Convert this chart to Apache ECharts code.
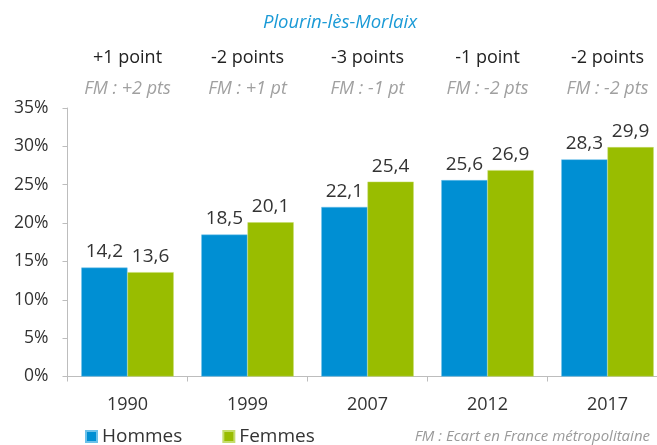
<!DOCTYPE html>
<html>
<head>
<meta charset="utf-8">
<script src="https://cdn.jsdelivr.net/npm/echarts@6/dist/echarts.min.js"></script>
<style>
  html, body { margin: 0; padding: 0; background: #fff; overflow: hidden; }
  #chart { width: 680px; height: 445px; }
</style>
</head>
<body>
<div id="chart"></div>
<script>
// Census years
const years = ['1990', '1999', '2007', '2012', '2017'];
// Share (%) for men and women
const hommes = [14.2, 18.5, 22.1, 25.6, 28.3];
const femmes = [13.6, 20.1, 25.4, 26.9, 29.9];
// Gap between women and men, and the same gap for metropolitan France
const ecarts = ['+1 point', '-2 points', '-3 points', '-1 point', '-2 points'];
const ecartsFM = ['FM : +2 pts', 'FM : +1 pt', 'FM : -1 pt', 'FM : -2 pts', 'FM : -2 pts'];
const yTicks = [0, 5, 10, 15, 20, 25, 30, 35];

const FONT = '"Open Sans", "Noto Sans", sans-serif';
const fmt = v => v.toFixed(1).replace('.', ',');

const chart = echarts.init(document.getElementById('chart'), null, { renderer: 'canvas' });

chart.setOption({
  animation: false,
  textStyle: { fontFamily: FONT },
  title: [
    {
      text: 'Plourin-lès-Morlaix',
      left: 'center',
      top: 8,
      textStyle: { fontFamily: FONT, fontSize: 18.5, fontStyle: 'italic', fontWeight: 'normal', color: '#1a9ad6' }
    },
    {
      text: 'FM : Ecart en France métropolitaine',
      right: 25,
      bottom: -4,
      textStyle: { fontFamily: FONT, fontSize: 15, fontStyle: 'italic', fontWeight: 'normal', color: '#9a9a9a' }
    }
  ],
  legend: {
    left: 80,
    top: 422,
    itemWidth: 11,
    itemHeight: 11,
    itemGap: 40,
    icon: 'rect',
    textStyle: { fontFamily: FONT, fontSize: 19, color: '#333' },
    data: ['Hommes', 'Femmes']
  },
  grid: { left: 67.5, top: 108, right: 12.5, bottom: 68.5 },
  xAxis: [
    {
      type: 'category',
      data: years,
      position: 'bottom',
      axisLine: { lineStyle: { color: '#bdbdbd' } },
      axisTick: { show: true, length: 5, lineStyle: { color: '#bdbdbd' } },
      axisLabel: { fontFamily: FONT, fontSize: 18, color: '#333', margin: 19 }
    },
    {
      type: 'category',
      data: years,
      position: 'top',
      axisLine: { show: false },
      axisTick: { show: false },
      axisLabel: {
        margin: 4,
        formatter: (v, i) => '{a|' + ecarts[i] + '}\n{b|' + ecartsFM[i] + '}',
        rich: {
          a: { fontFamily: FONT, fontSize: 18, color: '#222', lineHeight: 31 },
          b: { fontFamily: FONT, fontSize: 18, fontStyle: 'italic', color: '#a0a0a0', lineHeight: 31 }
        }
      }
    }
  ],
  yAxis: {
    type: 'value',
    min: yTicks[0],
    max: yTicks[yTicks.length - 1],
    interval: 5,
    splitLine: { show: false },
    axisLine: { show: true, lineStyle: { color: '#bdbdbd' } },
    axisTick: { show: true, length: 5, lineStyle: { color: '#bdbdbd' } },
    axisLabel: { fontFamily: FONT, fontSize: 17.5, color: '#333', margin: 19, formatter: v => v + '%' }
  },
  series: [
    {
      name: 'Hommes',
      type: 'bar',
      data: hommes,
      barGap: '0%',
      barCategoryGap: '23%',
      itemStyle: { color: '#008fd3', borderColor: '#6cc1ea', borderWidth: 0.5 },
      label: { show: true, position: 'top', distance: 6, fontFamily: FONT, fontSize: 19, color: '#333', formatter: p => fmt(p.value) }
    },
    {
      name: 'Femmes',
      type: 'bar',
      data: femmes,
      itemStyle: { color: '#99bd00', borderColor: '#c5dd6a', borderWidth: 0.5 },
      label: { show: true, position: 'top', distance: 6, fontFamily: FONT, fontSize: 19, color: '#333', formatter: p => fmt(p.value) }
    }
  ]
});
</script>
</body>
</html>
